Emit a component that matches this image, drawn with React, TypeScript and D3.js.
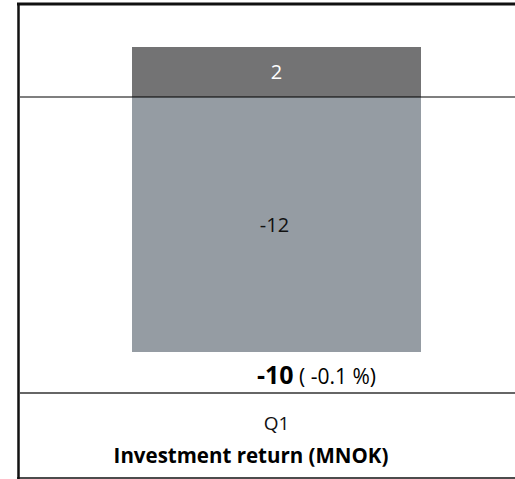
import React from "react";
import * as d3 from "d3";

const categories = ["Q1"];
const seriesPositive = [2];
const seriesNegative = [-12];
const totals = [-10];
const totalPct = ["-0.1 %"];
const title = "Investment return (MNOK)";

const W = 515;
const H = 479;
const FONT = "'Open Sans', Lato, sans-serif";

export default function App() {
  const plotLeft = 20;
  const plotTop = 4;
  const plotBottom = 352;
  const y = d3.scaleLinear().domain([-10.2, 3.72]).range([plotBottom, plotTop]).clamp(true);
  const x = d3.scaleBand().domain(categories).range([132, 421]).padding(0);
  const bw = x.bandwidth();
  return (
    <svg width={W} height={H} style={{ position: "absolute", left: 0, top: 0 }}>
      <rect x={0} y={0} width={W} height={H} fill="#fff" />
      {categories.map((c, i) => {
        const x0 = x(c) as number;
        const cx = x0 + bw / 2;
        const negTop = y(0);
        const negBot = y(seriesNegative[i]);
        const posTop = y(seriesPositive[i]);
        return (
          <g key={c}>
            <rect x={x0} y={negTop} width={bw} height={negBot - negTop} fill="#959ca3" />
            <rect x={x0} y={posTop} width={bw} height={y(0) - posTop} fill="#737374" />
            <text x={cx} y={(posTop + y(0)) / 2} dy="0.36em" textAnchor="middle" fill="#fff" fontFamily={FONT} fontSize={20}>
              {seriesPositive[i]}
            </text>
            <text x={cx - 2} y={(negTop + negBot) / 2} dy="0.36em" textAnchor="middle" fill="#111" fontFamily={FONT} fontSize={20}>
              {seriesNegative[i]}
            </text>
            <text x={257} y={384} fontFamily={FONT} fill="#000">
              <tspan fontWeight="bold" fontSize={25}>{totals[i]}</tspan>
              <tspan fontSize={21}> ( {totalPct[i]})</tspan>
            </text>
            <text x={cx} y={430} textAnchor="middle" fontFamily={FONT} fontSize={19} fill="#111">
              {c}
            </text>
          </g>
        );
      })}
      <line x1={plotLeft} x2={W} y1={y(0)} y2={y(0)} stroke="#000" strokeWidth={1.2} />
      <line x1={plotLeft} x2={W} y1={393} y2={393} stroke="#333" strokeWidth={1.5} />
      <line x1={17} x2={W} y1={4} y2={4} stroke="#111" strokeWidth={3} />
      <line x1={18.5} x2={18.5} y1={3} y2={H} stroke="#111" strokeWidth={2.5} />
      <line x1={17} x2={W} y1={478} y2={478} stroke="#111" strokeWidth={1.5} />
      <text x={251} y={463} textAnchor="middle" fontFamily={FONT} fontWeight="bold" fontSize={20.5} fill="#000">
        {title}
      </text>
    </svg>
  );
}
